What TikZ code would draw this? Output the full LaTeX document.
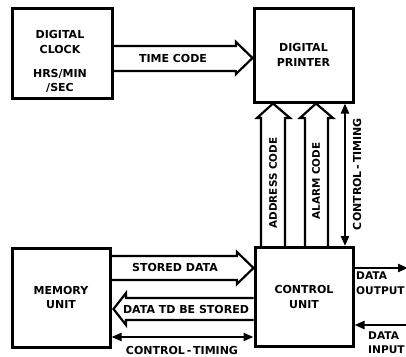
\documentclass[tikz,border=0pt]{standalone}
\usepackage{fontspec}
\setmainfont{DejaVu Sans}
\usetikzlibrary{arrows.meta,calc}
\tikzset{
  box/.style={draw, line width=3pt, minimum width=#1, inner sep=0pt},
  conn/.style={line width=2.2pt, line join=miter},
  lbl/.style={font=\bfseries\fontsize{11}{14.5}\selectfont, inner sep=0pt, align=center},
  vlbl/.style={font=\bfseries\fontsize{10.4}{12}\selectfont, inner sep=0pt, rotate=90},
  edgelbl/.style={font=\bfseries\fontsize{10.6}{14.5}\selectfont, inner sep=0pt, align=left, anchor=west}
}
\begin{document}
\begin{tikzpicture}[x=1pt,y=-1pt,>={Triangle[length=10pt,width=8pt]}]
\useasboundingbox (0,0) rectangle (406,356);
% boxes
\node[box=100pt, minimum height=90pt] (clock) at (62,53) {};
\node[lbl] (clocktext) at (60,61.5) {DIGITAL\\CLOCK\\[9.5pt]HRS/MIN\\/SEC};
\node[box=99pt, minimum height=94pt, lbl] (printer) at (303.5,55) {DIGITAL\\PRINTER};
\node[box=98pt, minimum height=99pt, lbl] (memory) at (61,297.5) {MEMORY\\UNIT};
\node[box=98pt, minimum height=99pt, lbl] (control) at (304,297) {CONTROL\\UNIT};
% time code
\draw[conn] (clock.east |- 0,46) -- (236,46) -- (236,42) -- (printer.west |- 0,58)
  -- (236,74) -- (236,71) -- (clock.east |- 0,71);
\node[lbl] (tc) at (173,58) {TIME CODE};
% stored data
\draw[conn] (memory.east |- 0,256) -- (237,256) -- (237,252) -- (control.west |- 0,268)
  -- (237,284) -- (237,280) -- (memory.east |- 0,280);
\node[lbl] (sd) at (175,267) {STORED DATA};
% data to be stored
\draw[conn] (control.west |- 0,298) -- (126,298) -- (126,293) -- ($(memory.east |- 0,309)+(2,0)$)
  -- (126,325) -- (126,320) -- (control.west |- 0,320);
\node[lbl] (dtbs) at (186,309) {DATA TD BE STORED};
% control timing bottom
\draw[conn, <->] (memory.east |- 0,337) -- (control.west |- 0,337);
\node[lbl] (ct1) at (182,350.5) {CONTROL\,-\,TIMING};
% address code
\draw[conn] (control.north -| 261,0) -- (261,118) -- (257,118) -- (printer.south -| 273,0)
  -- (290,118) -- (285,118) -- (control.north -| 285,0);
\node[vlbl] (ac) at (273,183) {ADDRESS CODE};
% alarm code
\draw[conn] (control.north -| 305,0) -- (305,118) -- (300,118) -- (printer.south -| 316,0)
  -- (333,118) -- (328,118) -- (control.north -| 328,0);
\node[vlbl] (alc) at (316,181) {ALARM CODE};
% control timing vertical
\draw[conn, <->] (printer.south -| 345,0) -- (control.north -| 345,0);
\node[vlbl, font=\bfseries\fontsize{11}{12}\selectfont] (ct2) at (357,174) {CONTROL\,-\,TIMING};
% data output / input
\coordinate (dout) at (408,268);
\coordinate (din) at (408,325);
\draw[conn, ->] (control.east |- 0,268) -- (dout);
\node[edgelbl] (do) at (356,283) {DATA\\OUTPUT};
\draw[conn, ->] (din) -- (control.east |- 0,325);
\node[edgelbl] (di) at (368,342.5) {DATA\\INPUT};
\end{tikzpicture}
\end{document}
